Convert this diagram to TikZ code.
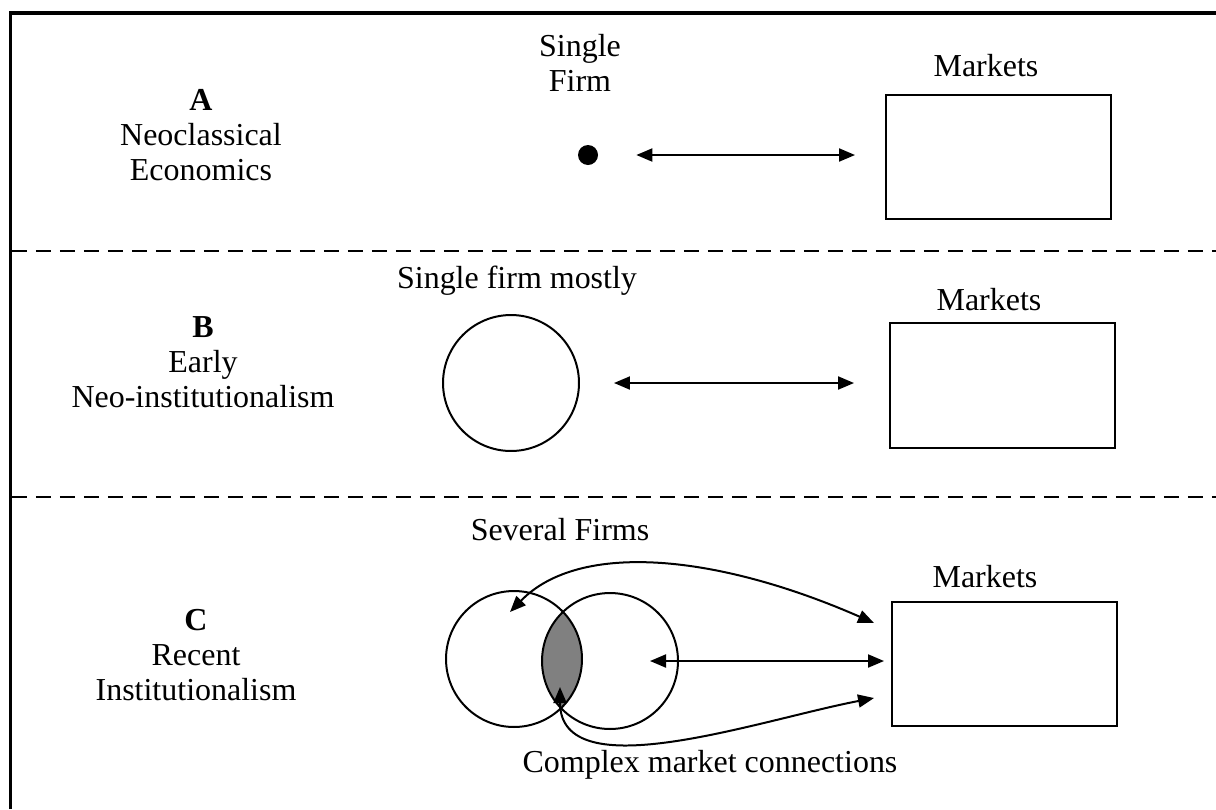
\documentclass[tikz,border=0pt]{standalone}
\usepackage{fontspec}
\setmainfont{Liberation Serif}
\usetikzlibrary{arrows.meta,backgrounds}

\begin{document}
\begin{tikzpicture}[x=0.02cm,y=-0.02cm,
  every node/.style={font=\fontsize{18.2pt}{20pt}\selectfont},
  lbl/.style={align=center},
  mkt/.style={draw,line width=0.04cm,minimum width=4.5cm,minimum height=2.48cm,inner sep=0pt},
  firm/.style={draw,circle,line width=0.04cm,minimum size=2.72cm,inner sep=0pt},
  link/.style={line width=0.04cm,{Triangle[length=0.32cm,width=0.26cm]}-{Triangle[length=0.32cm,width=0.26cm]}},
  sep/.style={line width=0.04cm,dash pattern=on 0.3cm off 0.18cm}]
\useasboundingbox (0,0) rectangle (1216,809);

% frame and the two dashed separators
\draw[line width=0.08cm] (10.5,809) -- (10.5,12.5) -- (1216,12.5);
\draw[sep] (12,251) -- (1216,251);
\draw[sep] (12,497) -- (1216,497);

% A
\node[lbl] (labA) at (201,135) {\textbf{A}\\Neoclassical\\Economics};
\node[lbl] (single) at (580,63) {Single\\Firm};
\node[circle,fill,inner sep=0pt,minimum size=0.4cm] (dot) at (588,155) {};
\node[mkt] (mktA) at (998.5,157) {};
\node (mktAlbl) at (986,66) {Markets};
\draw[link,shorten <=0.76cm,shorten >=0.6cm] (dot.east) -- (dot -| mktA.west);

% B
\node[lbl] (labB) at (203,362) {\textbf{B}\\Early\\Neo-institutionalism};
\node (mostly) at (517,281) {Single firm mostly};
\node[firm] (firmB) at (511,383) {};
\node[mkt,minimum height=2.5cm] (mktB) at (1002.5,385.5) {};
\node (mktBlbl) at (989,300) {Markets};
\draw[link,shorten <=0.68cm,shorten >=0.7cm] (firmB.east) -- (firmB -| mktB.west);

% C
\node[lbl] (labC) at (196,655) {\textbf{C}\\Recent\\Institutionalism};
\node (several) at (560,530) {Several Firms};
\node[firm] (firmL) at (514,659) {};
\node[firm] (firmR) at (610,661) {};
\begin{scope}[on background layer]
  \clip (firmL.center) circle (1.36cm);
  \fill[black!50] (firmR.center) circle (1.36cm);
\end{scope}
\node[mkt] (mktC) at (1004.5,664) {};
\node (mktClbl) at (985,577) {Markets};
\node (complex) at (710,765) {Complex market connections};

\draw[link,shorten <=0.8cm,shorten >=0.14cm] (firmR.center) -- (firmR -| mktC.west);
\path (firmL.center) ++(-4,-47) coordinate (inL);
\path (firmL.center) ++(46,28) coordinate (inLens);
\path (mktC.west) ++(-17,-41) coordinate (mTop);
\path (mktC.west) ++(-17,34) coordinate (mBot);
\draw[link] (inL) .. controls +(70,-72) and +(-155,-68) .. (mTop);
\draw[link] (inLens) .. controls +(0,103) and +(-115,22) .. (mBot);
\end{tikzpicture}
\end{document}
